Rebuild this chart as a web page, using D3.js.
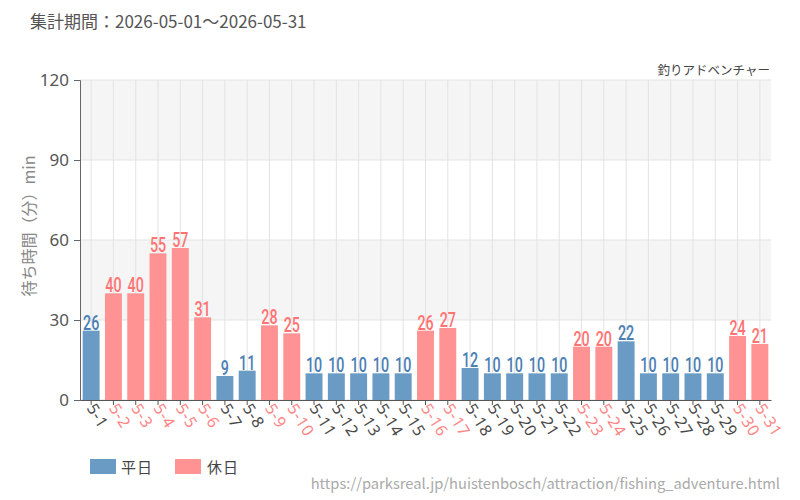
<!DOCTYPE html>
<html><head><meta charset="utf-8">
<script src="https://cdn.jsdelivr.net/npm/d3@7"></script>
<style>body{margin:0;background:#fff;}svg{display:block;font-family:"Noto Sans CJK JP","Noto Sans",sans-serif;}</style>
</head><body><svg id="c" width="800" height="500"></svg>
<script>
const categories = ["5-1","5-2","5-3","5-4","5-5","5-6","5-7","5-8","5-9","5-10","5-11","5-12","5-13","5-14","5-15","5-16","5-17","5-18","5-19","5-20","5-21","5-22","5-23","5-24","5-25","5-26","5-27","5-28","5-29","5-30","5-31"];
const waits = [26,40,40,55,57,31,9,11,28,25,10,10,10,10,10,26,27,12,10,10,10,10,20,20,22,10,10,10,10,24,21];
const holidays = ["5-2","5-3","5-4","5-5","5-6","5-9","5-10","5-16","5-17","5-23","5-24","5-30","5-31"];
const yTicks = [0,30,60,90,120];
const legendLabels = ["平日","休日"];

const svg = d3.select("#c");
const m = {l:80, r:771, t:80, b:400};
const x = d3.scaleBand().domain(categories).range([m.l, m.r]).paddingInner(0.24).paddingOuter(0.12);
const y = d3.scaleLinear().domain([0,120]).range([m.b, m.t]);
const blue = "#6a9bc4", pink = "#ff9393", blueT = "#4a80b4", pinkT = "#ff7373", pinkX = "#ff8585";
const isHol = d => holidays.includes(d);

// background bands
for (let i=0;i<yTicks.length-1;i++){
  svg.append("rect").attr("x",m.l).attr("width",m.r-m.l)
    .attr("y",y(yTicks[i+1])).attr("height",y(yTicks[i])-y(yTicks[i+1]))
    .attr("fill", i%2===1 ? "#f5f5f5" : "#ffffff");
}
// horizontal grid
svg.append("g").selectAll("line").data(yTicks).join("line")
  .attr("x1",m.l).attr("x2",m.r).attr("y1",d=>y(d)).attr("y2",d=>y(d))
  .attr("stroke","#e3e3e3");
// vertical grid
svg.append("g").selectAll("line").data(categories).join("line")
  .attr("x1",d=>x(d)+x.bandwidth()/2).attr("x2",d=>x(d)+x.bandwidth()/2)
  .attr("y1",m.t).attr("y2",m.b).attr("stroke","#e3e3e3");

// bars
svg.append("g").selectAll("rect").data(categories).join("rect")
  .attr("x",d=>x(d)).attr("width",x.bandwidth())
  .attr("y",(d,i)=>y(waits[i])).attr("height",(d,i)=>y(0)-y(waits[i]))
  .attr("fill",d=>isHol(d)?pink:blue);

// value labels (condensed)
svg.append("g").selectAll("text").data(categories).join("text")
  .attr("transform",(d,i)=>`translate(${x(d)+x.bandwidth()/2},${y(waits[i])-1}) scale(0.68,1)`)
  .attr("text-anchor","middle")
  .style("font-family",'Roboto,"Noto Sans",sans-serif')
  .style("font-size","21px").style("font-weight","500")
  .attr("fill",d=>isHol(d)?pinkT:blueT)
  .text((d,i)=>waits[i]);

// y axis
const ya = svg.append("g").attr("transform",`translate(${m.l},0)`)
  .call(d3.axisLeft(y).tickValues(yTicks).tickSize(6).tickPadding(5));
ya.select(".domain").attr("stroke","#666");
ya.selectAll(".tick line").attr("stroke","#666");
ya.selectAll("text").attr("fill","#555").style("font-size","17px")
  .style("font-family",'"Noto Sans",sans-serif');

// x axis
const xa = svg.append("g").attr("transform",`translate(0,${m.b})`)
  .call(d3.axisBottom(x).tickSize(5).tickSizeOuter(0));
xa.select(".domain").attr("stroke","#555");
xa.selectAll(".tick line").attr("stroke","#555");
xa.selectAll("text")
  .attr("fill",d=>isHol(d)?pinkX:"#484848")
  .style("font-size","16px").style("font-family",'"Noto Sans",sans-serif')
  .style("letter-spacing","0.6px")
  .attr("text-anchor","start").attr("dy",null).attr("y",0)
  .attr("transform","translate(-5,8) rotate(58)");

// y title
svg.append("text").attr("transform","translate(35,226) rotate(-90)")
  .attr("text-anchor","middle").attr("fill","#888").style("font-size","16px")
  .text("待ち時間（分）min");

// title
svg.append("text").attr("x",30).attr("y",28).attr("fill","#555").style("font-size","17px")
  .text("集計期間：2026-05-01～2026-05-31");
// subtitle
svg.append("text").attr("x",770).attr("y",75).attr("text-anchor","end").attr("fill","#444").style("font-size","12.5px")
  .text("釣りアドベンチャー");

// legend
const lg = svg.append("g");
[[blue,90,121],[pink,175,207]].forEach((c,i)=>{
  lg.append("rect").attr("x",c[1]).attr("y",459).attr("width",26).attr("height",15).attr("fill",c[0]);
  lg.append("text").attr("x",c[2]).attr("y",473).attr("fill","#444").style("font-size","15px")
    .style("letter-spacing","1px").text(legendLabels[i]);
});

// footer
svg.append("text").attr("x",780).attr("y",489).attr("text-anchor","end").attr("fill","#aaa").style("font-size","14.7px")
  .text("https://parksreal.jp/huistenbosch/attraction/fishing_adventure.html");
</script></body></html>
